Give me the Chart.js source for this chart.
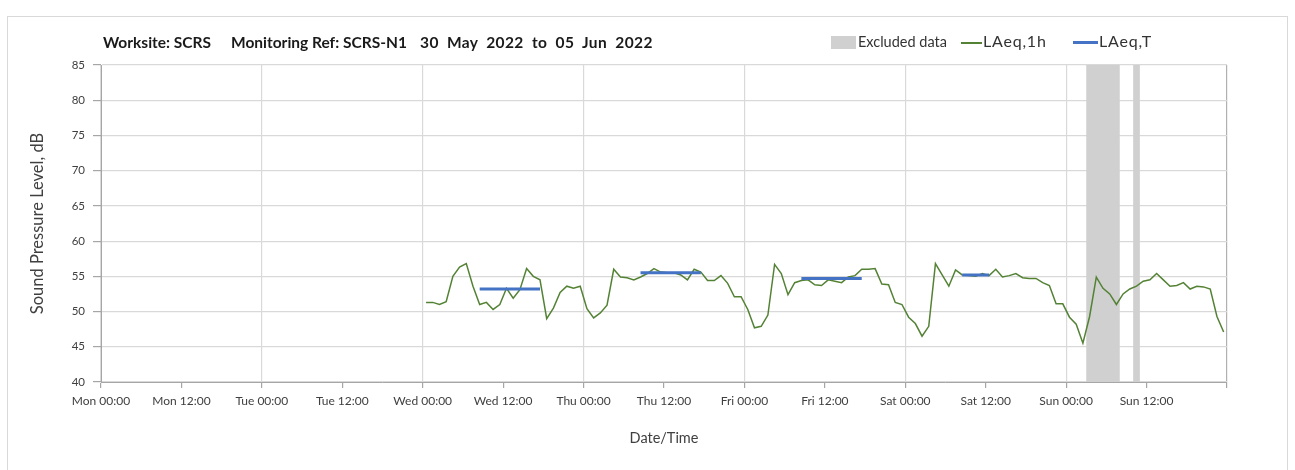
<!DOCTYPE html>
<html><head><meta charset="utf-8">
<script src="https://cdn.jsdelivr.net/npm/chart.js@4/dist/chart.umd.min.js"></script>
<style>
html,body{margin:0;padding:0;background:#fff;}
#wrap{position:relative;width:1295px;height:470px;overflow:hidden;}
#frame{position:absolute;left:7px;top:16px;width:1281px;height:470px;border:1px solid #d9d9d9;box-sizing:border-box;}
#c{position:absolute;left:0;top:0;}
.tt{position:absolute;top:31px;font:bold 15.5px Lato, sans-serif;white-space:pre;color:#1a1a1a;line-height:22px;}
.lg{position:absolute;top:32px;font:14.5px Lato, sans-serif;color:#333;line-height:20px;white-space:pre;}
.sw{position:absolute;}
</style></head>
<body>
<div id="wrap">
<div id="frame"></div>
<canvas id="c" width="1295" height="470"></canvas>
<div class="tt" style="left:103px">Worksite: SCRS</div>
<div class="tt" style="left:231px">Monitoring Ref: SCRS-N1</div>
<div class="tt" style="left:420px;word-spacing:4px;letter-spacing:0.4px">30 May 2022 to 05 Jun 2022</div>
<div class="sw" style="left:831px;top:36px;width:25px;height:13px;background:#d0d0d0"></div>
<div class="lg" style="left:858px">Excluded data</div>
<div class="sw" style="left:961px;top:42px;width:21px;height:2px;background:#548235"></div>
<div class="lg" style="left:983px;font-size:16px;letter-spacing:0.8px;top:31px">LAeq,1h</div>
<div class="sw" style="left:1073px;top:41px;width:25px;height:3px;background:#4472C4"></div>
<div class="lg" style="left:1099px;font-size:16px;letter-spacing:0.8px;top:31px">LAeq,T</div>
</div>
<script>
// x values are hours since Mon 30 May 2022 00:00
const tickLabels = ["Mon 00:00","Mon 12:00","Tue 00:00","Tue 12:00","Wed 00:00","Wed 12:00","Thu 00:00","Thu 12:00","Fri 00:00","Fri 12:00","Sat 00:00","Sat 12:00","Sun 00:00","Sun 12:00",""];
const firstReadingHour = 48.5; // Wed 00:30, hourly readings
const laeq1h = [
 51.3,51.3,51.0,51.4,55.0,56.3,56.8,53.6,51.0,51.3,50.3,51.0,53.3,51.9,53.1,56.1,55.0,54.5,49.0,50.5,52.7,53.6,53.3,53.6,
 50.4,49.1,49.8,50.9,56.0,54.9,54.8,54.5,54.9,55.4,56.1,55.6,55.5,55.5,55.2,54.5,56.0,55.6,54.4,54.4,55.1,54.0,52.1,52.1,
 50.3,47.7,47.9,49.5,56.7,55.4,52.4,54.1,54.4,54.5,53.8,53.7,54.5,54.3,54.1,54.9,55.1,56.0,56.0,56.1,53.9,53.8,51.3,51.0,
 49.2,48.3,46.5,47.9,56.8,55.2,53.6,55.9,55.2,55.1,55.0,55.4,55.1,56.0,54.9,55.1,55.4,54.8,54.7,54.7,54.1,53.7,51.1,51.1,
 49.2,48.2,45.5,49.3,54.9,53.3,52.5,51.0,52.5,53.2,53.6,54.3,54.5,55.4,54.5,53.6,53.7,54.1,53.2,53.6,53.5,53.2,49.3,47.1
];
const periodStart = [56.5, 80.5, 104.5, 128.5];
const periodEnd   = [65.5, 89.5, 113.5, 132.5];
const periodLAeqT = [53.2, 55.5, 54.7, 55.2];
const excludedStart = [147, 154];
const excludedEnd   = [152, 155];

const lineData = laeq1h.map((v,i)=>({x:firstReadingHour+i, y:v}));
const tData = [];
periodStart.forEach((s,i)=>{
  tData.push({x:s, y:periodLAeqT[i]});
  tData.push({x:periodEnd[i], y:periodLAeqT[i]});
  tData.push({x:periodEnd[i]+0.01, y:null});
});

const bandPlugin = {
  id:'bands',
  beforeDatasetsDraw(chart){
    const {ctx, chartArea, scales:{x}} = chart;
    ctx.save();
    ctx.fillStyle = '#d0d0d0';
    excludedStart.forEach((s,i)=>{
      const x1 = x.getPixelForValue(s), x2 = x.getPixelForValue(excludedEnd[i]);
      ctx.fillRect(x1, chartArea.top, x2-x1, chartArea.bottom-chartArea.top);
    });
    ctx.restore();
  }
};

Chart.defaults.font.family = 'Lato, sans-serif';
new Chart(document.getElementById('c'), {
  type:'line',
  data:{datasets:[
    {label:'LAeq,T', data:tData, borderColor:'#4472C4', borderWidth:3, pointRadius:0, spanGaps:false, tension:0},
    {label:'LAeq,1h', data:lineData, borderColor:'#548235', borderWidth:1.5, pointRadius:0, tension:0}
  ]},
  options:{
    responsive:false, animation:false, events:[],
    layout:{padding:{left:20, right:68, top:65, bottom:20}},
    plugins:{legend:{display:false}, tooltip:{enabled:false}},
    scales:{
      x:{type:'linear', min:0, max:168,
        afterFit(s){ s.height = 68; },
        ticks:{stepSize:12, autoSkip:false, maxRotation:0, minRotation:0, padding:6, color:'#404040', font:{size:12},
          callback:(v)=> tickLabels[Math.round(v/12)] ?? ''},
        afterBuildTicks(s){ s.ticks = tickLabels.map((l,i)=>({value:i*12})); },
        grid:{color:(c)=>{ const v=c.tick?c.tick.value:0; if(v===168) return '#b0b0b0'; return v%24===0 ? '#d9d9d9':'rgba(0,0,0,0)'; },
              tickColor:'#a6a6a6', tickLength:6, lineWidth:1.2},
        border:{color:'#a6a6a6', width:1},
        title:{display:true, text:'Date/Time', color:'#404040', font:{size:14.5}, padding:{top:4,bottom:3}}
      },
      y:{min:40, max:85,
        afterFit(s){ s.width = 81; },
        ticks:{stepSize:5, padding:8, color:'#404040', font:{size:11.5}},
        grid:{color:'#d9d9d9', tickColor:'#a6a6a6', tickLength:8, lineWidth:1.2},
        border:{color:'#a6a6a6', width:1},
        title:{display:true, text:'Sound Pressure Level, dB', color:'#404040', font:{size:16.5}, padding:{top:8,bottom:4}}
      }
    }
  },
  plugins:[bandPlugin]
});
</script>
</body></html>
